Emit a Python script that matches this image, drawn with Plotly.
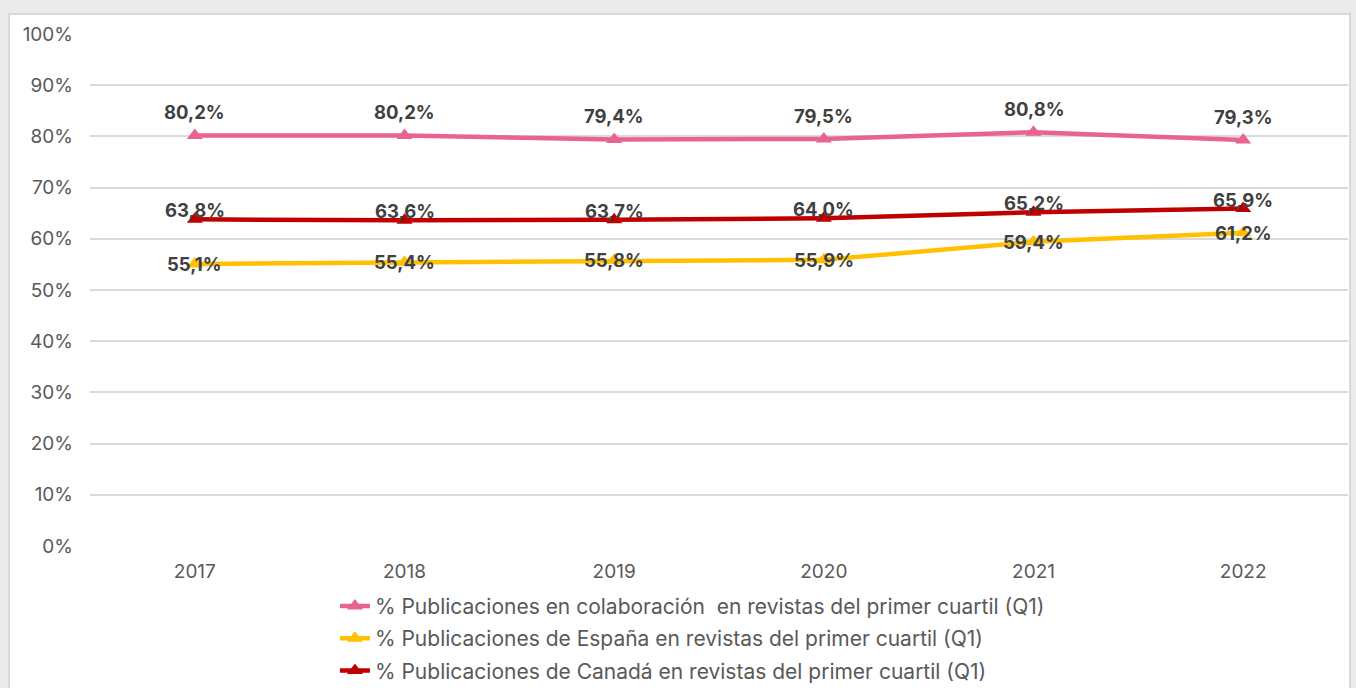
import plotly.graph_objects as go

years = ["2017", "2018", "2019", "2020", "2021", "2022"]
colab = [80.2, 80.2, 79.4, 79.5, 80.8, 79.3]
espana = [55.1, 55.4, 55.8, 55.9, 59.4, 61.2]
canada = [63.8, 63.6, 63.7, 64.0, 65.2, 65.9]
y_ticks = [0, 10, 20, 30, 40, 50, 60, 70, 80, 90, 100]
y_tick_text = [f"{v}%" for v in y_ticks]

names = [
    "% Publicaciones en colaboración  en revistas del primer cuartil (Q1)",
    "% Publicaciones de España en revistas del primer cuartil (Q1)",
    "% Publicaciones de Canadá en revistas del primer cuartil (Q1)",
]
series = [colab, espana, canada]
colors = ["#E8638F", "#FFC000", "#C00000"]
label_shift = [23, 0, 9]

FONT = "Inter, Lato, sans-serif"

fig = go.Figure()
for i, (name, vals, col) in enumerate(zip(names, series, colors)):
    fig.add_trace(go.Scatter(
        x=years, y=vals, name=name, mode="lines+markers",
        line=dict(color=col, width=4.5),
        marker=dict(symbol="triangle-up", size=14, color=col),
        legendgroup=f"g{i}",
    ))

# data labels (drawn above lines); x given as category index
for vals, shift in zip(series, label_shift):
    for idx, v in enumerate(vals):
        fig.add_annotation(
            x=idx, y=v, text=f"{v:.1f}%".replace(".", ","),
            showarrow=False, yshift=shift,
            font=dict(family=FONT, size=18.5, color="#404040", weight="bold"),
        )

# panel: gray page with white card
fig.add_shape(type="rect", xref="paper", yref="paper",
              x0=-0.0644, x1=1.0016, y0=-0.35, y1=1.039,
              fillcolor="white", line=dict(color="#d9d9d9", width=2),
              layer="below")

fig.update_layout(
    width=1356, height=688,
    margin=dict(l=90, r=8, t=34, b=142, autoexpand=False),
    paper_bgcolor="#ebebeb",
    plot_bgcolor="rgba(0,0,0,0)",
    font=dict(family=FONT, size=19, color="#595959"),
    showlegend=True,
    legend=dict(
        orientation="v", xref="container", yref="container",
        x=0.247, xanchor="left", y=0.1485, yanchor="top",
        bgcolor="rgba(0,0,0,0)", font=dict(family=FONT, size=21, color="#595959"),
        traceorder="grouped", tracegroupgap=2, itemwidth=30,
    ),
    xaxis=dict(
        type="category", range=[-0.5, len(years) - 0.5],
        showgrid=False, showline=False, zeroline=False,
        ticks="", tickfont=dict(family=FONT, size=19, color="#595959"),
        ticklabelstandoff=12,
    ),
    yaxis=dict(
        range=[0, 100], tickvals=y_ticks, ticktext=y_tick_text,
        showgrid=True, gridcolor="#d9d9d9", gridwidth=1.5,
        zeroline=False, showline=False, ticks="",
        tickfont=dict(family=FONT, size=19, color="#595959"),
        ticklabelstandoff=16,
    ),
)

fig.write_html(
    "out.html",
    config={"displayModeBar": False},
    post_script="document.body.style.margin='0';document.body.style.overflow='hidden';",
)
